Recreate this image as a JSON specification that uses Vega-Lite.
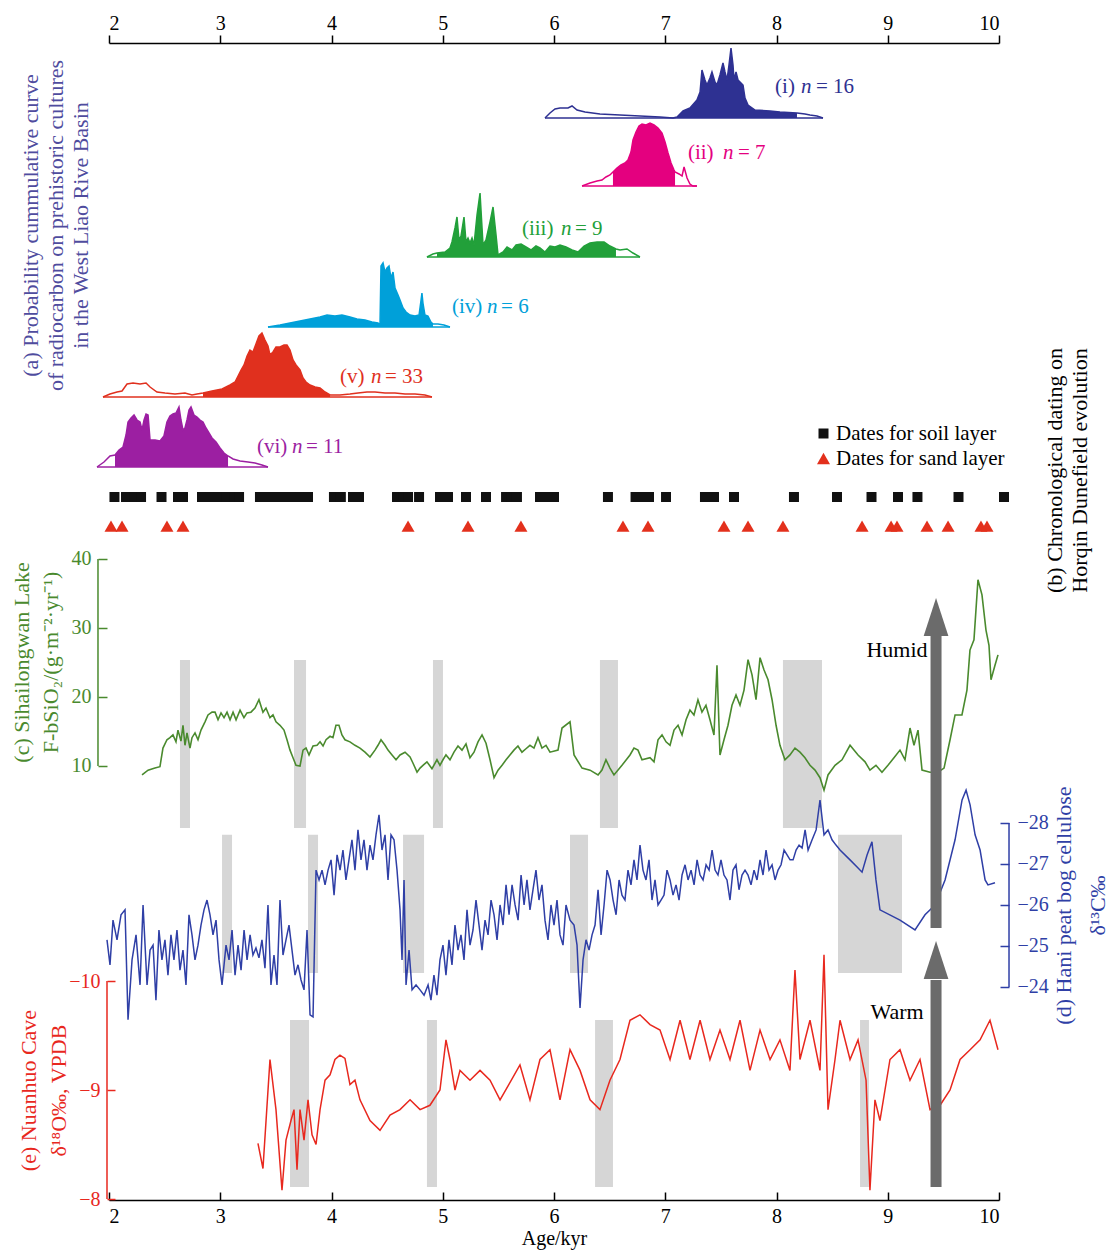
{
"$schema": "https://vega.github.io/schema/vega-lite/v6.json",
"width": 890, "height": 1157,
"autosize": {"type": "none"},
"padding": {"left": 109, "top": 43, "right": 109, "bottom": 52},
"background": "white",
"config": {
 "view": {"stroke": null},
 "font": "Liberation Serif",
 "text": {"font": "Liberation Serif"},
 "axis": {"labelFont": "Liberation Serif", "titleFont": "Liberation Serif", "labelFontSize": 20, "titleFontSize": 22, "titleFontWeight": "normal", "grid": false, "domainWidth": 1.5, "tickWidth": 1.5},
 "legend": {"labelFont": "Liberation Serif", "labelFontSize": 21}
},
"datasets": {
 "barsC": [{"a1": 2.638, "a2": 2.728}, {"a1": 3.663, "a2": 3.771}, {"a1": 4.912, "a2": 5.002}, {"a1": 6.413, "a2": 6.575}, {"a1": 8.058, "a2": 8.409}],
 "barsD": [{"a1": 3.016, "a2": 3.106}, {"a1": 3.789, "a2": 3.879}, {"a1": 4.643, "a2": 4.832}, {"a1": 6.144, "a2": 6.306}, {"a1": 8.553, "a2": 9.128}],
 "barsE": [{"a1": 3.627, "a2": 3.798}, {"a1": 4.858, "a2": 4.948}, {"a1": 6.369, "a2": 6.530}, {"a1": 8.751, "a2": 8.831}],
 "curves": [
  {"c":"i","age":5.919,"p":0,"f":0},{"c":"i","age":5.964,"p":5,"f":0},{"c":"i","age":6.009,"p":9,"f":0},{"c":"i","age":6.054,"p":10,"f":0},{"c":"i","age":6.126,"p":10,"f":0},{"c":"i","age":6.162,"p":12,"f":0},{"c":"i","age":6.207,"p":8,"f":0},{"c":"i","age":6.279,"p":6,"f":0},{"c":"i","age":6.413,"p":4,"f":0},{"c":"i","age":6.593,"p":3,"f":0},{"c":"i","age":6.773,"p":2,"f":0},{"c":"i","age":6.953,"p":1,"f":0},{"c":"i","age":7.070,"p":0,"f":0},
  {"c":"i","age":7.106,"p":1,"f":1},{"c":"i","age":7.160,"p":7,"f":1},{"c":"i","age":7.222,"p":10,"f":1},{"c":"i","age":7.285,"p":18,"f":1},{"c":"i","age":7.313,"p":26,"f":1},{"c":"i","age":7.330,"p":48,"f":1},{"c":"i","age":7.357,"p":38,"f":1},{"c":"i","age":7.375,"p":33,"f":1},{"c":"i","age":7.402,"p":40,"f":1},{"c":"i","age":7.420,"p":46,"f":1},{"c":"i","age":7.447,"p":36,"f":1},{"c":"i","age":7.465,"p":33,"f":1},{"c":"i","age":7.492,"p":43,"f":1},{"c":"i","age":7.519,"p":55,"f":1},{"c":"i","age":7.537,"p":46,"f":1},{"c":"i","age":7.555,"p":38,"f":1},{"c":"i","age":7.573,"p":53,"f":1},{"c":"i","age":7.591,"p":70,"f":1},{"c":"i","age":7.609,"p":53,"f":1},{"c":"i","age":7.618,"p":38,"f":1},{"c":"i","age":7.636,"p":46,"f":1},{"c":"i","age":7.654,"p":38,"f":1},{"c":"i","age":7.672,"p":36,"f":1},{"c":"i","age":7.699,"p":33,"f":1},{"c":"i","age":7.717,"p":20,"f":1},{"c":"i","age":7.744,"p":13,"f":1},{"c":"i","age":7.807,"p":8,"f":1},{"c":"i","age":7.942,"p":7,"f":1},{"c":"i","age":8.031,"p":6,"f":1},{"c":"i","age":8.184,"p":5,"f":1},
  {"c":"i","age":8.256,"p":4,"f":0},{"c":"i","age":8.301,"p":3,"f":0},{"c":"i","age":8.364,"p":2,"f":0},{"c":"i","age":8.418,"p":0,"f":0},
  {"c":"ii","age":6.252,"p":0,"f":0},{"c":"ii","age":6.324,"p":3,"f":0},{"c":"ii","age":6.387,"p":5,"f":0},{"c":"ii","age":6.431,"p":6,"f":0},{"c":"ii","age":6.467,"p":9,"f":0},{"c":"ii","age":6.503,"p":11,"f":0},
  {"c":"ii","age":6.530,"p":14,"f":1},{"c":"ii","age":6.566,"p":18,"f":1},{"c":"ii","age":6.602,"p":21,"f":1},{"c":"ii","age":6.638,"p":23,"f":1},{"c":"ii","age":6.665,"p":26,"f":1},{"c":"ii","age":6.692,"p":34,"f":1},{"c":"ii","age":6.710,"p":46,"f":1},{"c":"ii","age":6.737,"p":54,"f":1},{"c":"ii","age":6.764,"p":60,"f":1},{"c":"ii","age":6.791,"p":62,"f":1},{"c":"ii","age":6.827,"p":61,"f":1},{"c":"ii","age":6.863,"p":63,"f":1},{"c":"ii","age":6.899,"p":61,"f":1},{"c":"ii","age":6.935,"p":58,"f":1},{"c":"ii","age":6.971,"p":53,"f":1},{"c":"ii","age":6.998,"p":44,"f":1},{"c":"ii","age":7.025,"p":33,"f":1},{"c":"ii","age":7.052,"p":23,"f":1},{"c":"ii","age":7.079,"p":16,"f":1},{"c":"ii","age":7.088,"p":14,"f":1},
  {"c":"ii","age":7.124,"p":12,"f":0},{"c":"ii","age":7.151,"p":10,"f":0},{"c":"ii","age":7.169,"p":19,"f":0},{"c":"ii","age":7.196,"p":8,"f":0},{"c":"ii","age":7.222,"p":2,"f":0},{"c":"ii","age":7.249,"p":0,"f":0},{"c":"ii","age":7.285,"p":0,"f":0},
  {"c":"iii","age":4.858,"p":0,"f":0},{"c":"iii","age":4.912,"p":3,"f":0},
  {"c":"iii","age":4.948,"p":4,"f":1},{"c":"iii","age":5.020,"p":5,"f":1},{"c":"iii","age":5.065,"p":9,"f":1},{"c":"iii","age":5.083,"p":15,"f":1},{"c":"iii","age":5.110,"p":29,"f":1},{"c":"iii","age":5.128,"p":40,"f":1},{"c":"iii","age":5.146,"p":17,"f":1},{"c":"iii","age":5.164,"p":21,"f":1},{"c":"iii","age":5.191,"p":40,"f":1},{"c":"iii","age":5.209,"p":15,"f":1},{"c":"iii","age":5.227,"p":19,"f":1},{"c":"iii","age":5.245,"p":14,"f":1},{"c":"iii","age":5.263,"p":19,"f":1},{"c":"iii","age":5.281,"p":12,"f":1},{"c":"iii","age":5.308,"p":42,"f":1},{"c":"iii","age":5.335,"p":64,"f":1},{"c":"iii","age":5.362,"p":12,"f":1},{"c":"iii","age":5.389,"p":17,"f":1},{"c":"iii","age":5.425,"p":35,"f":1},{"c":"iii","age":5.452,"p":50,"f":1},{"c":"iii","age":5.479,"p":22,"f":1},{"c":"iii","age":5.497,"p":2,"f":1},{"c":"iii","age":5.542,"p":5,"f":1},{"c":"iii","age":5.578,"p":10,"f":1},{"c":"iii","age":5.623,"p":7,"f":1},{"c":"iii","age":5.659,"p":12,"f":1},{"c":"iii","age":5.704,"p":13,"f":1},{"c":"iii","age":5.748,"p":10,"f":1},{"c":"iii","age":5.793,"p":7,"f":1},{"c":"iii","age":5.838,"p":11,"f":1},{"c":"iii","age":5.874,"p":9,"f":1},{"c":"iii","age":5.919,"p":5,"f":1},{"c":"iii","age":5.964,"p":11,"f":1},{"c":"iii","age":6.009,"p":10,"f":1},{"c":"iii","age":6.054,"p":12,"f":1},{"c":"iii","age":6.108,"p":10,"f":1},{"c":"iii","age":6.162,"p":7,"f":1},{"c":"iii","age":6.216,"p":5,"f":1},{"c":"iii","age":6.270,"p":11,"f":1},{"c":"iii","age":6.324,"p":14,"f":1},{"c":"iii","age":6.387,"p":15,"f":1},{"c":"iii","age":6.450,"p":15,"f":1},{"c":"iii","age":6.503,"p":11,"f":1},{"c":"iii","age":6.557,"p":8,"f":1},
  {"c":"iii","age":6.593,"p":7,"f":0},{"c":"iii","age":6.656,"p":8,"f":0},{"c":"iii","age":6.710,"p":4,"f":0},{"c":"iii","age":6.773,"p":0,"f":0},
  {"c":"iv","age":3.429,"p":0,"f":1},{"c":"iv","age":3.537,"p":2,"f":1},{"c":"iv","age":3.627,"p":4,"f":1},{"c":"iv","age":3.717,"p":6,"f":1},{"c":"iv","age":3.807,"p":8,"f":1},{"c":"iv","age":3.897,"p":10,"f":1},{"c":"iv","age":3.960,"p":12,"f":1},{"c":"iv","age":4.031,"p":11,"f":1},{"c":"iv","age":4.094,"p":12,"f":1},{"c":"iv","age":4.166,"p":10,"f":1},{"c":"iv","age":4.229,"p":8,"f":1},{"c":"iv","age":4.301,"p":7,"f":1},{"c":"iv","age":4.364,"p":5,"f":1},{"c":"iv","age":4.418,"p":4,"f":1},{"c":"iv","age":4.436,"p":2,"f":1},{"c":"iv","age":4.445,"p":61,"f":1},{"c":"iv","age":4.463,"p":64,"f":1},{"c":"iv","age":4.481,"p":55,"f":1},{"c":"iv","age":4.499,"p":59,"f":1},{"c":"iv","age":4.517,"p":61,"f":1},{"c":"iv","age":4.535,"p":49,"f":1},{"c":"iv","age":4.553,"p":55,"f":1},{"c":"iv","age":4.571,"p":39,"f":1},{"c":"iv","age":4.598,"p":32,"f":1},{"c":"iv","age":4.616,"p":27,"f":1},{"c":"iv","age":4.643,"p":19,"f":1},{"c":"iv","age":4.670,"p":15,"f":1},{"c":"iv","age":4.706,"p":12,"f":1},{"c":"iv","age":4.751,"p":11,"f":1},{"c":"iv","age":4.787,"p":12,"f":1},{"c":"iv","age":4.805,"p":27,"f":1},{"c":"iv","age":4.813,"p":34,"f":1},{"c":"iv","age":4.822,"p":24,"f":1},{"c":"iv","age":4.840,"p":12,"f":1},{"c":"iv","age":4.867,"p":11,"f":1},{"c":"iv","age":4.894,"p":5,"f":1},{"c":"iv","age":4.912,"p":3,"f":1},
  {"c":"iv","age":4.957,"p":3,"f":0},{"c":"iv","age":5.011,"p":2,"f":0},{"c":"iv","age":5.065,"p":0,"f":0},
  {"c":"v","age":1.946,"p":0,"f":0},{"c":"v","age":2.009,"p":3,"f":0},{"c":"v","age":2.072,"p":5,"f":0},{"c":"v","age":2.117,"p":6,"f":0},{"c":"v","age":2.162,"p":13,"f":0},{"c":"v","age":2.216,"p":14,"f":0},{"c":"v","age":2.279,"p":13,"f":0},{"c":"v","age":2.333,"p":14,"f":0},{"c":"v","age":2.369,"p":10,"f":0},{"c":"v","age":2.431,"p":5,"f":0},{"c":"v","age":2.503,"p":4,"f":0},{"c":"v","age":2.593,"p":3,"f":0},{"c":"v","age":2.683,"p":4,"f":0},{"c":"v","age":2.746,"p":2,"f":0},{"c":"v","age":2.791,"p":3,"f":0},
  {"c":"v","age":2.845,"p":4,"f":1},{"c":"v","age":2.926,"p":6,"f":1},{"c":"v","age":3.016,"p":8,"f":1},{"c":"v","age":3.088,"p":12,"f":1},{"c":"v","age":3.133,"p":15,"f":1},{"c":"v","age":3.160,"p":21,"f":1},{"c":"v","age":3.187,"p":27,"f":1},{"c":"v","age":3.214,"p":32,"f":1},{"c":"v","age":3.241,"p":41,"f":1},{"c":"v","age":3.267,"p":47,"f":1},{"c":"v","age":3.294,"p":45,"f":1},{"c":"v","age":3.321,"p":53,"f":1},{"c":"v","age":3.348,"p":61,"f":1},{"c":"v","age":3.375,"p":64,"f":1},{"c":"v","age":3.402,"p":57,"f":1},{"c":"v","age":3.429,"p":51,"f":1},{"c":"v","age":3.447,"p":42,"f":1},{"c":"v","age":3.474,"p":45,"f":1},{"c":"v","age":3.501,"p":50,"f":1},{"c":"v","age":3.537,"p":50,"f":1},{"c":"v","age":3.573,"p":52,"f":1},{"c":"v","age":3.600,"p":52,"f":1},{"c":"v","age":3.627,"p":47,"f":1},{"c":"v","age":3.654,"p":37,"f":1},{"c":"v","age":3.681,"p":32,"f":1},{"c":"v","age":3.717,"p":27,"f":1},{"c":"v","age":3.744,"p":19,"f":1},{"c":"v","age":3.771,"p":15,"f":1},{"c":"v","age":3.807,"p":12,"f":1},{"c":"v","age":3.852,"p":10,"f":1},{"c":"v","age":3.897,"p":9,"f":1},{"c":"v","age":3.942,"p":5,"f":1},{"c":"v","age":3.987,"p":2,"f":1},
  {"c":"v","age":4.076,"p":2,"f":0},{"c":"v","age":4.166,"p":3,"f":0},{"c":"v","age":4.238,"p":4,"f":0},{"c":"v","age":4.319,"p":5,"f":0},{"c":"v","age":4.391,"p":5,"f":0},{"c":"v","age":4.481,"p":4,"f":0},{"c":"v","age":4.571,"p":4,"f":0},{"c":"v","age":4.661,"p":3,"f":0},{"c":"v","age":4.751,"p":3,"f":0},{"c":"v","age":4.840,"p":2,"f":0},{"c":"v","age":4.903,"p":0,"f":0},
  {"c":"vi","age":1.892,"p":0,"f":0},{"c":"vi","age":1.955,"p":5,"f":0},{"c":"vi","age":2.009,"p":11,"f":0},
  {"c":"vi","age":2.054,"p":12,"f":1},{"c":"vi","age":2.090,"p":17,"f":1},{"c":"vi","age":2.126,"p":20,"f":1},{"c":"vi","age":2.153,"p":32,"f":1},{"c":"vi","age":2.171,"p":45,"f":1},{"c":"vi","age":2.198,"p":49,"f":1},{"c":"vi","age":2.225,"p":52,"f":1},{"c":"vi","age":2.252,"p":47,"f":1},{"c":"vi","age":2.279,"p":45,"f":1},{"c":"vi","age":2.297,"p":37,"f":1},{"c":"vi","age":2.315,"p":47,"f":1},{"c":"vi","age":2.333,"p":53,"f":1},{"c":"vi","age":2.351,"p":52,"f":1},{"c":"vi","age":2.369,"p":27,"f":1},{"c":"vi","age":2.414,"p":27,"f":1},{"c":"vi","age":2.458,"p":26,"f":1},{"c":"vi","age":2.494,"p":31,"f":1},{"c":"vi","age":2.521,"p":45,"f":1},{"c":"vi","age":2.548,"p":51,"f":1},{"c":"vi","age":2.575,"p":53,"f":1},{"c":"vi","age":2.602,"p":54,"f":1},{"c":"vi","age":2.629,"p":60,"f":1},{"c":"vi","age":2.647,"p":47,"f":1},{"c":"vi","age":2.665,"p":37,"f":1},{"c":"vi","age":2.683,"p":39,"f":1},{"c":"vi","age":2.701,"p":47,"f":1},{"c":"vi","age":2.719,"p":57,"f":1},{"c":"vi","age":2.737,"p":60,"f":1},{"c":"vi","age":2.764,"p":52,"f":1},{"c":"vi","age":2.791,"p":50,"f":1},{"c":"vi","age":2.818,"p":47,"f":1},{"c":"vi","age":2.845,"p":45,"f":1},{"c":"vi","age":2.872,"p":39,"f":1},{"c":"vi","age":2.899,"p":34,"f":1},{"c":"vi","age":2.926,"p":29,"f":1},{"c":"vi","age":2.962,"p":25,"f":1},{"c":"vi","age":2.998,"p":19,"f":1},{"c":"vi","age":3.034,"p":14,"f":1},{"c":"vi","age":3.070,"p":11,"f":1},
  {"c":"vi","age":3.115,"p":8,"f":0},{"c":"vi","age":3.178,"p":6,"f":0},{"c":"vi","age":3.249,"p":5,"f":0},{"c":"vi","age":3.312,"p":4,"f":0},{"c":"vi","age":3.375,"p":2,"f":0},{"c":"vi","age":3.429,"p":0,"f":0}
 ],
 "clabels": [
  {"c":"i","t":"(i)","age":7.987,"p":31,"it":0},{"c":"i","t":"n","age":8.220,"p":31,"it":1},{"c":"i","t":"= 16","age":8.355,"p":31,"it":0},
  {"c":"ii","t":"(ii)","age":7.204,"p":33,"it":0},{"c":"ii","t":"n","age":7.519,"p":33,"it":1},{"c":"ii","t":"= 7","age":7.654,"p":33,"it":0},
  {"c":"iii","t":"(iii)","age":5.712,"p":28,"it":0},{"c":"iii","t":"n","age":6.063,"p":28,"it":1},{"c":"iii","t":"= 9","age":6.189,"p":28,"it":0},
  {"c":"iv","t":"(iv)","age":5.083,"p":20,"it":0},{"c":"iv","t":"n","age":5.398,"p":20,"it":1},{"c":"iv","t":"= 6","age":5.524,"p":20,"it":0},
  {"c":"v","t":"(v)","age":4.076,"p":20,"it":0},{"c":"v","t":"n","age":4.355,"p":20,"it":1},{"c":"v","t":"= 33","age":4.481,"p":20,"it":0},
  {"c":"vi","t":"(vi)","age":3.330,"p":20,"it":0},{"c":"vi","t":"n","age":3.645,"p":20,"it":1},{"c":"vi","t":"= 11","age":3.771,"p":20,"it":0}
 ],
 "dates": [
  {"type":"Dates for soil layer","row":1,"age":2.049},{"type":"Dates for soil layer","row":1,"age":2.153},{"type":"Dates for soil layer","row":1,"age":2.225},{"type":"Dates for soil layer","row":1,"age":2.288},{"type":"Dates for soil layer","row":1,"age":2.472},{"type":"Dates for soil layer","row":1,"age":2.620},{"type":"Dates for soil layer","row":1,"age":2.665},{"type":"Dates for soil layer","row":1,"age":2.836},{"type":"Dates for soil layer","row":1,"age":2.908},{"type":"Dates for soil layer","row":1,"age":2.980},{"type":"Dates for soil layer","row":1,"age":3.052},{"type":"Dates for soil layer","row":1,"age":3.124},{"type":"Dates for soil layer","row":1,"age":3.169},{"type":"Dates for soil layer","row":1,"age":3.357},{"type":"Dates for soil layer","row":1,"age":3.429},{"type":"Dates for soil layer","row":1,"age":3.501},{"type":"Dates for soil layer","row":1,"age":3.573},{"type":"Dates for soil layer","row":1,"age":3.645},{"type":"Dates for soil layer","row":1,"age":3.717},{"type":"Dates for soil layer","row":1,"age":3.789},{"type":"Dates for soil layer","row":1,"age":4.022},{"type":"Dates for soil layer","row":1,"age":4.084},{"type":"Dates for soil layer","row":1,"age":4.193},{"type":"Dates for soil layer","row":1,"age":4.247},{"type":"Dates for soil layer","row":1,"age":4.589},{"type":"Dates for soil layer","row":1,"age":4.643},{"type":"Dates for soil layer","row":1,"age":4.688},{"type":"Dates for soil layer","row":1,"age":4.787},{"type":"Dates for soil layer","row":1,"age":4.975},{"type":"Dates for soil layer","row":1,"age":5.047},{"type":"Dates for soil layer","row":1,"age":5.209},{"type":"Dates for soil layer","row":1,"age":5.389},{"type":"Dates for soil layer","row":1,"age":5.569},{"type":"Dates for soil layer","row":1,"age":5.622},{"type":"Dates for soil layer","row":1,"age":5.667},{"type":"Dates for soil layer","row":1,"age":5.874},{"type":"Dates for soil layer","row":1,"age":5.946},{"type":"Dates for soil layer","row":1,"age":6.000},{"type":"Dates for soil layer","row":1,"age":6.485},{"type":"Dates for soil layer","row":1,"age":6.733},{"type":"Dates for soil layer","row":1,"age":6.800},{"type":"Dates for soil layer","row":1,"age":6.854},{"type":"Dates for soil layer","row":1,"age":7.007},{"type":"Dates for soil layer","row":1,"age":7.357},{"type":"Dates for soil layer","row":1,"age":7.438},{"type":"Dates for soil layer","row":1,"age":7.618},{"type":"Dates for soil layer","row":1,"age":8.157},{"type":"Dates for soil layer","row":1,"age":8.544},{"type":"Dates for soil layer","row":1,"age":8.854},{"type":"Dates for soil layer","row":1,"age":9.092},{"type":"Dates for soil layer","row":1,"age":9.267},{"type":"Dates for soil layer","row":1,"age":9.636},{"type":"Dates for soil layer","row":1,"age":10.045},
  {"type":"Dates for sand layer","row":0,"age":2.018},{"type":"Dates for sand layer","row":0,"age":2.117},{"type":"Dates for sand layer","row":0,"age":2.521},{"type":"Dates for sand layer","row":0,"age":2.665},{"type":"Dates for sand layer","row":0,"age":4.688},{"type":"Dates for sand layer","row":0,"age":5.227},{"type":"Dates for sand layer","row":0,"age":5.703},{"type":"Dates for sand layer","row":0,"age":6.620},{"type":"Dates for sand layer","row":0,"age":6.845},{"type":"Dates for sand layer","row":0,"age":7.528},{"type":"Dates for sand layer","row":0,"age":7.744},{"type":"Dates for sand layer","row":0,"age":8.058},{"type":"Dates for sand layer","row":0,"age":8.769},{"type":"Dates for sand layer","row":0,"age":9.030},{"type":"Dates for sand layer","row":0,"age":9.083},{"type":"Dates for sand layer","row":0,"age":9.353},{"type":"Dates for sand layer","row":0,"age":9.542},{"type":"Dates for sand layer","row":0,"age":9.838},{"type":"Dates for sand layer","row":0,"age":9.892}
 ],
 "spines": [
  {"panel":"c","age":1.901,"lo":10,"hi":40},
  {"panel":"d","age":10.09,"lo":-28,"hi":-24},
  {"panel":"e","age":1.982,"lo":-10,"hi":-8}
 ],
 "sil": [
  {"age":2.297,"v":8.7},{"age":2.351,"v":9.4},{"age":2.413,"v":9.7},{"age":2.458,"v":9.9},{"age":2.485,"v":12.6},{"age":2.521,"v":13.8},{"age":2.548,"v":14.1},{"age":2.575,"v":14.5},{"age":2.602,"v":13.5},{"age":2.620,"v":15.2},{"age":2.647,"v":13.6},{"age":2.665,"v":15.9},{"age":2.683,"v":13.0},{"age":2.701,"v":14.8},{"age":2.728,"v":12.6},{"age":2.746,"v":14.1},{"age":2.773,"v":14.8},{"age":2.800,"v":13.8},{"age":2.827,"v":15.2},{"age":2.863,"v":16.4},{"age":2.890,"v":17.4},{"age":2.926,"v":17.8},{"age":2.953,"v":17.8},{"age":2.980,"v":16.7},{"age":3.007,"v":17.7},{"age":3.034,"v":17.0},{"age":3.061,"v":17.8},{"age":3.088,"v":16.7},{"age":3.115,"v":17.8},{"age":3.142,"v":16.7},{"age":3.178,"v":18.1},{"age":3.213,"v":17.0},{"age":3.240,"v":17.7},{"age":3.276,"v":17.8},{"age":3.312,"v":18.4},{"age":3.348,"v":19.6},{"age":3.384,"v":17.8},{"age":3.411,"v":18.4},{"age":3.447,"v":17.0},{"age":3.474,"v":17.4},{"age":3.501,"v":16.4},{"age":3.537,"v":15.9},{"age":3.573,"v":15.2},{"age":3.600,"v":13.8},{"age":3.627,"v":12.3},{"age":3.654,"v":11.2},{"age":3.681,"v":10.1},{"age":3.717,"v":10.0},{"age":3.744,"v":12.3},{"age":3.771,"v":12.6},{"age":3.798,"v":11.6},{"age":3.834,"v":12.9},{"age":3.870,"v":13.0},{"age":3.897,"v":13.5},{"age":3.924,"v":12.9},{"age":3.951,"v":13.8},{"age":3.987,"v":14.3},{"age":4.013,"v":14.1},{"age":4.040,"v":15.9},{"age":4.067,"v":15.9},{"age":4.094,"v":14.5},{"age":4.121,"v":13.8},{"age":4.166,"v":13.5},{"age":4.211,"v":13.0},{"age":4.256,"v":12.6},{"age":4.301,"v":12.0},{"age":4.346,"v":11.3},{"age":4.391,"v":12.3},{"age":4.418,"v":13.0},{"age":4.445,"v":13.8},{"age":4.481,"v":13.0},{"age":4.508,"v":12.3},{"age":4.544,"v":11.6},{"age":4.580,"v":10.9},{"age":4.616,"v":11.6},{"age":4.661,"v":12.0},{"age":4.706,"v":11.3},{"age":4.733,"v":10.4},{"age":4.769,"v":9.1},{"age":4.796,"v":9.7},{"age":4.822,"v":10.1},{"age":4.858,"v":10.6},{"age":4.903,"v":9.6},{"age":4.948,"v":10.9},{"age":4.975,"v":10.1},{"age":5.002,"v":10.9},{"age":5.029,"v":11.6},{"age":5.065,"v":10.9},{"age":5.101,"v":12.0},{"age":5.137,"v":12.9},{"age":5.173,"v":12.3},{"age":5.209,"v":13.2},{"age":5.245,"v":11.2},{"age":5.281,"v":12.0},{"age":5.317,"v":13.5},{"age":5.353,"v":14.5},{"age":5.389,"v":13.3},{"age":5.425,"v":10.9},{"age":5.461,"v":8.3},{"age":5.497,"v":9.4},{"age":5.533,"v":10.1},{"age":5.569,"v":10.9},{"age":5.604,"v":11.6},{"age":5.640,"v":12.3},{"age":5.676,"v":12.9},{"age":5.712,"v":12.0},{"age":5.748,"v":12.5},{"age":5.784,"v":13.0},{"age":5.820,"v":12.6},{"age":5.856,"v":14.1},{"age":5.892,"v":12.6},{"age":5.928,"v":13.0},{"age":5.964,"v":12.0},{"age":6.036,"v":12.3},{"age":6.072,"v":15.5},{"age":6.144,"v":16.4},{"age":6.180,"v":11.6},{"age":6.252,"v":9.7},{"age":6.324,"v":9.4},{"age":6.396,"v":8.7},{"age":6.431,"v":9.4},{"age":6.467,"v":10.9},{"age":6.503,"v":9.7},{"age":6.539,"v":8.7},{"age":6.611,"v":10.1},{"age":6.683,"v":11.6},{"age":6.719,"v":12.6},{"age":6.755,"v":12.3},{"age":6.791,"v":10.9},{"age":6.863,"v":11.2},{"age":6.899,"v":10.6},{"age":6.935,"v":13.8},{"age":6.971,"v":14.5},{"age":7.007,"v":13.5},{"age":7.043,"v":13.0},{"age":7.079,"v":15.2},{"age":7.115,"v":15.9},{"age":7.151,"v":14.5},{"age":7.187,"v":16.7},{"age":7.222,"v":18.1},{"age":7.258,"v":17.4},{"age":7.294,"v":19.6},{"age":7.330,"v":17.8},{"age":7.366,"v":18.8},{"age":7.402,"v":16.7},{"age":7.438,"v":14.5},{"age":7.465,"v":24.6},{"age":7.492,"v":11.6},{"age":7.528,"v":13.8},{"age":7.564,"v":15.9},{"age":7.600,"v":18.8},{"age":7.636,"v":20.3},{"age":7.672,"v":18.8},{"age":7.708,"v":21.0},{"age":7.744,"v":25.4},{"age":7.780,"v":23.2},{"age":7.816,"v":19.6},{"age":7.852,"v":25.7},{"age":7.888,"v":23.9},{"age":7.924,"v":22.5},{"age":7.960,"v":19.6},{"age":7.996,"v":15.9},{"age":8.031,"v":13.0},{"age":8.076,"v":10.9},{"age":8.121,"v":11.6},{"age":8.166,"v":12.6},{"age":8.211,"v":12.0},{"age":8.256,"v":11.2},{"age":8.301,"v":10.1},{"age":8.346,"v":9.4},{"age":8.391,"v":8.3},{"age":8.427,"v":6.5},{"age":8.463,"v":8.7},{"age":8.526,"v":10.1},{"age":8.589,"v":10.9},{"age":8.661,"v":13.0},{"age":8.733,"v":11.6},{"age":8.796,"v":10.6},{"age":8.840,"v":9.4},{"age":8.894,"v":10.1},{"age":8.948,"v":9.1},{"age":9.002,"v":10.1},{"age":9.056,"v":11.2},{"age":9.110,"v":12.3},{"age":9.155,"v":10.9},{"age":9.200,"v":15.5},{"age":9.236,"v":13.0},{"age":9.272,"v":15.2},{"age":9.308,"v":9.4},{"age":9.380,"v":9.1},{"age":9.452,"v":9.1},{"age":9.506,"v":9.7},{"age":9.560,"v":13.8},{"age":9.605,"v":17.4},{"age":9.667,"v":17.4},{"age":9.712,"v":21.0},{"age":9.739,"v":26.8},{"age":9.775,"v":28.3},{"age":9.811,"v":37.0},{"age":9.847,"v":34.8},{"age":9.883,"v":29.7},{"age":9.910,"v":27.5},{"age":9.928,"v":22.5},{"age":9.964,"v":24.6},{"age":9.991,"v":26.1}
 ],
 "hani": [
  {"age":1.982,"v":-25.15},{"age":2.009,"v":-24.54},{"age":2.036,"v":-25.63},{"age":2.072,"v":-25.15},{"age":2.108,"v":-25.76},{"age":2.144,"v":-25.88},{"age":2.171,"v":-23.20},{"age":2.207,"v":-24.66},{"age":2.243,"v":-25.27},{"age":2.279,"v":-24.05},{"age":2.306,"v":-26.00},{"age":2.342,"v":-24.05},{"age":2.369,"v":-24.90},{"age":2.396,"v":-25.02},{"age":2.422,"v":-23.68},{"age":2.449,"v":-25.39},{"age":2.476,"v":-24.66},{"age":2.503,"v":-25.15},{"age":2.530,"v":-24.29},{"age":2.557,"v":-25.27},{"age":2.584,"v":-24.66},{"age":2.611,"v":-25.39},{"age":2.638,"v":-24.41},{"age":2.665,"v":-24.90},{"age":2.692,"v":-24.05},{"age":2.719,"v":-25.76},{"age":2.746,"v":-25.27},{"age":2.773,"v":-24.66},{"age":2.800,"v":-25.02},{"age":2.827,"v":-25.51},{"age":2.854,"v":-25.88},{"age":2.881,"v":-26.12},{"age":2.908,"v":-25.76},{"age":2.935,"v":-25.27},{"age":2.962,"v":-25.63},{"age":2.989,"v":-24.66},{"age":3.016,"v":-24.05},{"age":3.052,"v":-25.02},{"age":3.079,"v":-24.66},{"age":3.106,"v":-25.39},{"age":3.133,"v":-24.29},{"age":3.160,"v":-25.02},{"age":3.187,"v":-24.41},{"age":3.214,"v":-25.39},{"age":3.241,"v":-24.66},{"age":3.268,"v":-25.27},{"age":3.294,"v":-24.78},{"age":3.321,"v":-24.95},{"age":3.348,"v":-24.71},{"age":3.375,"v":-25.15},{"age":3.402,"v":-24.46},{"age":3.429,"v":-26.00},{"age":3.456,"v":-24.05},{"age":3.483,"v":-24.78},{"age":3.510,"v":-24.05},{"age":3.537,"v":-26.12},{"age":3.564,"v":-24.78},{"age":3.591,"v":-25.15},{"age":3.618,"v":-25.51},{"age":3.645,"v":-24.90},{"age":3.672,"v":-24.29},{"age":3.699,"v":-24.54},{"age":3.726,"v":-24.17},{"age":3.753,"v":-23.93},{"age":3.780,"v":-25.39},{"age":3.807,"v":-23.32},{"age":3.834,"v":-23.27},{"age":3.861,"v":-26.85},{"age":3.888,"v":-26.61},{"age":3.915,"v":-26.85},{"age":3.942,"v":-26.49},{"age":3.969,"v":-26.85},{"age":3.996,"v":-27.10},{"age":4.023,"v":-26.24},{"age":4.050,"v":-27.22},{"age":4.077,"v":-26.85},{"age":4.103,"v":-27.34},{"age":4.130,"v":-26.61},{"age":4.157,"v":-27.10},{"age":4.184,"v":-27.59},{"age":4.211,"v":-26.85},{"age":4.238,"v":-27.83},{"age":4.265,"v":-27.10},{"age":4.292,"v":-27.59},{"age":4.319,"v":-26.85},{"age":4.346,"v":-27.46},{"age":4.373,"v":-27.10},{"age":4.400,"v":-27.71},{"age":4.427,"v":-28.20},{"age":4.454,"v":-27.34},{"age":4.481,"v":-27.71},{"age":4.508,"v":-26.61},{"age":4.535,"v":-27.71},{"age":4.562,"v":-27.59},{"age":4.589,"v":-26.85},{"age":4.616,"v":-25.88},{"age":4.634,"v":-24.66},{"age":4.652,"v":-26.61},{"age":4.670,"v":-24.05},{"age":4.697,"v":-24.90},{"age":4.724,"v":-23.93},{"age":4.760,"v":-24.05},{"age":4.796,"v":-23.93},{"age":4.832,"v":-23.80},{"age":4.868,"v":-24.05},{"age":4.894,"v":-23.68},{"age":4.921,"v":-24.29},{"age":4.948,"v":-23.80},{"age":4.975,"v":-24.66},{"age":5.002,"v":-25.02},{"age":5.029,"v":-24.29},{"age":5.056,"v":-25.15},{"age":5.083,"v":-24.54},{"age":5.110,"v":-25.51},{"age":5.137,"v":-24.90},{"age":5.164,"v":-25.27},{"age":5.191,"v":-24.66},{"age":5.218,"v":-25.88},{"age":5.245,"v":-25.02},{"age":5.272,"v":-25.39},{"age":5.299,"v":-26.12},{"age":5.326,"v":-25.51},{"age":5.353,"v":-24.90},{"age":5.380,"v":-25.63},{"age":5.407,"v":-25.27},{"age":5.434,"v":-26.12},{"age":5.461,"v":-25.76},{"age":5.488,"v":-25.15},{"age":5.515,"v":-26.00},{"age":5.542,"v":-25.51},{"age":5.569,"v":-26.49},{"age":5.596,"v":-25.76},{"age":5.623,"v":-26.49},{"age":5.650,"v":-26.00},{"age":5.677,"v":-25.63},{"age":5.704,"v":-26.73},{"age":5.731,"v":-26.00},{"age":5.757,"v":-26.61},{"age":5.784,"v":-25.88},{"age":5.811,"v":-26.37},{"age":5.838,"v":-26.85},{"age":5.865,"v":-26.12},{"age":5.892,"v":-26.49},{"age":5.919,"v":-25.63},{"age":5.946,"v":-25.15},{"age":5.973,"v":-26.00},{"age":6.000,"v":-25.51},{"age":6.027,"v":-26.12},{"age":6.054,"v":-25.27},{"age":6.081,"v":-25.02},{"age":6.108,"v":-26.00},{"age":6.144,"v":-25.63},{"age":6.180,"v":-25.51},{"age":6.207,"v":-25.02},{"age":6.234,"v":-23.49},{"age":6.261,"v":-24.66},{"age":6.288,"v":-25.15},{"age":6.315,"v":-24.90},{"age":6.342,"v":-25.27},{"age":6.369,"v":-25.51},{"age":6.396,"v":-26.37},{"age":6.423,"v":-25.27},{"age":6.450,"v":-26.00},{"age":6.477,"v":-26.85},{"age":6.504,"v":-26.61},{"age":6.531,"v":-26.12},{"age":6.558,"v":-25.76},{"age":6.585,"v":-26.61},{"age":6.611,"v":-26.24},{"age":6.638,"v":-26.12},{"age":6.665,"v":-26.85},{"age":6.692,"v":-26.49},{"age":6.719,"v":-27.10},{"age":6.746,"v":-26.61},{"age":6.773,"v":-27.46},{"age":6.800,"v":-26.85},{"age":6.827,"v":-26.61},{"age":6.854,"v":-27.10},{"age":6.881,"v":-26.12},{"age":6.908,"v":-26.61},{"age":6.935,"v":-26.00},{"age":6.962,"v":-26.12},{"age":6.989,"v":-26.24},{"age":7.016,"v":-26.85},{"age":7.043,"v":-26.61},{"age":7.070,"v":-26.24},{"age":7.097,"v":-26.49},{"age":7.124,"v":-26.12},{"age":7.151,"v":-26.73},{"age":7.178,"v":-26.98},{"age":7.205,"v":-26.61},{"age":7.232,"v":-26.85},{"age":7.259,"v":-26.49},{"age":7.286,"v":-27.10},{"age":7.313,"v":-26.73},{"age":7.340,"v":-26.61},{"age":7.367,"v":-26.98},{"age":7.394,"v":-26.85},{"age":7.421,"v":-27.34},{"age":7.448,"v":-26.85},{"age":7.474,"v":-26.73},{"age":7.501,"v":-27.10},{"age":7.528,"v":-26.73},{"age":7.555,"v":-26.61},{"age":7.582,"v":-26.12},{"age":7.609,"v":-26.85},{"age":7.636,"v":-26.98},{"age":7.663,"v":-26.37},{"age":7.690,"v":-26.73},{"age":7.717,"v":-26.85},{"age":7.744,"v":-26.73},{"age":7.771,"v":-26.49},{"age":7.798,"v":-26.85},{"age":7.825,"v":-26.61},{"age":7.852,"v":-27.10},{"age":7.879,"v":-26.73},{"age":7.906,"v":-27.34},{"age":7.933,"v":-26.85},{"age":7.960,"v":-26.98},{"age":7.987,"v":-26.61},{"age":8.014,"v":-26.85},{"age":8.041,"v":-26.98},{"age":8.068,"v":-27.34},{"age":8.095,"v":-27.22},{"age":8.122,"v":-27.10},{"age":8.149,"v":-27.10},{"age":8.176,"v":-27.34},{"age":8.203,"v":-27.46},{"age":8.230,"v":-27.39},{"age":8.257,"v":-27.83},{"age":8.284,"v":-27.34},{"age":8.320,"v":-27.59},{"age":8.356,"v":-27.83},{"age":8.391,"v":-28.56},{"age":8.427,"v":-27.71},{"age":8.463,"v":-27.83},{"age":8.499,"v":-27.59},{"age":8.535,"v":-27.46},{"age":8.571,"v":-27.34},{"age":8.661,"v":-27.10},{"age":8.733,"v":-26.90},{"age":8.769,"v":-26.80},{"age":8.814,"v":-27.22},{"age":8.858,"v":-27.54},{"age":8.894,"v":-26.61},{"age":8.930,"v":-25.88},{"age":9.110,"v":-25.63},{"age":9.245,"v":-25.39},{"age":9.335,"v":-25.76},{"age":9.425,"v":-26.00},{"age":9.515,"v":-26.61},{"age":9.605,"v":-27.59},{"age":9.668,"v":-28.56},{"age":9.704,"v":-28.80},{"age":9.740,"v":-28.44},{"age":9.785,"v":-27.71},{"age":9.830,"v":-27.34},{"age":9.875,"v":-26.61},{"age":9.901,"v":-26.49},{"age":9.964,"v":-26.54}
 ],
 "nuan": [
  {"age":3.339,"v":-8.51},{"age":3.384,"v":-8.28},{"age":3.447,"v":-9.28},{"age":3.501,"v":-8.82},{"age":3.555,"v":-8.08},{"age":3.591,"v":-8.54},{"age":3.636,"v":-8.72},{"age":3.663,"v":-8.82},{"age":3.690,"v":-8.27},{"age":3.717,"v":-8.82},{"age":3.753,"v":-8.54},{"age":3.789,"v":-8.91},{"age":3.825,"v":-8.59},{"age":3.861,"v":-8.50},{"age":3.897,"v":-8.82},{"age":3.942,"v":-9.09},{"age":3.987,"v":-9.14},{"age":4.031,"v":-9.28},{"age":4.076,"v":-9.32},{"age":4.121,"v":-9.29},{"age":4.166,"v":-9.05},{"age":4.211,"v":-9.09},{"age":4.256,"v":-8.91},{"age":4.346,"v":-8.72},{"age":4.436,"v":-8.63},{"age":4.526,"v":-8.77},{"age":4.616,"v":-8.82},{"age":4.706,"v":-8.91},{"age":4.796,"v":-8.82},{"age":4.885,"v":-8.86},{"age":4.975,"v":-9.00},{"age":5.029,"v":-9.46},{"age":5.065,"v":-9.28},{"age":5.110,"v":-9.00},{"age":5.155,"v":-9.18},{"age":5.245,"v":-9.09},{"age":5.335,"v":-9.18},{"age":5.425,"v":-9.09},{"age":5.515,"v":-8.91},{"age":5.694,"v":-9.23},{"age":5.784,"v":-8.91},{"age":5.874,"v":-9.28},{"age":5.964,"v":-9.37},{"age":6.054,"v":-8.91},{"age":6.144,"v":-9.37},{"age":6.234,"v":-9.18},{"age":6.324,"v":-8.91},{"age":6.413,"v":-8.82},{"age":6.503,"v":-9.09},{"age":6.593,"v":-9.28},{"age":6.683,"v":-9.64},{"age":6.773,"v":-9.69},{"age":6.863,"v":-9.60},{"age":6.953,"v":-9.55},{"age":7.043,"v":-9.28},{"age":7.133,"v":-9.64},{"age":7.222,"v":-9.28},{"age":7.313,"v":-9.64},{"age":7.402,"v":-9.28},{"age":7.492,"v":-9.55},{"age":7.582,"v":-9.28},{"age":7.672,"v":-9.64},{"age":7.762,"v":-9.18},{"age":7.852,"v":-9.55},{"age":7.942,"v":-9.28},{"age":8.031,"v":-9.46},{"age":8.121,"v":-9.18},{"age":8.166,"v":-10.10},{"age":8.211,"v":-9.28},{"age":8.301,"v":-9.64},{"age":8.391,"v":-9.18},{"age":8.427,"v":-10.24},{"age":8.463,"v":-8.82},{"age":8.526,"v":-9.28},{"age":8.571,"v":-9.64},{"age":8.661,"v":-9.28},{"age":8.733,"v":-9.46},{"age":8.805,"v":-9.09},{"age":8.840,"v":-8.08},{"age":8.885,"v":-8.91},{"age":8.930,"v":-8.72},{"age":9.020,"v":-9.28},{"age":9.110,"v":-9.37},{"age":9.200,"v":-9.09},{"age":9.290,"v":-9.28},{"age":9.380,"v":-8.82},{"age":9.470,"v":-8.86},{"age":9.560,"v":-9.00},{"age":9.650,"v":-9.28},{"age":9.740,"v":-9.37},{"age":9.830,"v":-9.46},{"age":9.919,"v":-9.64},{"age":9.991,"v":-9.37}
 ]
},
"encoding": {"x": {"field": "age", "type": "quantitative", "scale": {"domain": [2, 10], "nice": false, "zero": false}, "axis": null}},
"layer": [
 {"data": {"name": "barsC"}, "mark": {"type": "rect", "color": "#d6d6d6"},
  "encoding": {
   "x": {"field": "a1", "type": "quantitative", "scale": {"domain": [2, 10], "nice": false, "zero": false}, "axis": {"orient": "top", "values": [2,3,4,5,6,7,8,9,10], "tickSize": 8, "labelPadding": 2, "domainColor": "black", "tickColor": "black", "labelColor": "black", "title": null}},
   "x2": {"field": "a2"},
   "y": {"datum": 25.36, "type": "quantitative", "scale": {"domain": [-52.9, 114.78], "nice": false, "zero": false}, "axis": null},
   "y2": {"datum": 1.0}}},
 {"data": {"name": "barsD"}, "mark": {"type": "rect", "color": "#d6d6d6"},
  "encoding": {
   "x": {"field": "a1", "type": "quantitative", "axis": null},
   "x2": {"field": "a2"},
   "y": {"datum": -27.71, "type": "quantitative", "scale": {"domain": [-47.02, -18.805], "reverse": true, "nice": false, "zero": false}, "axis": null},
   "y2": {"datum": -24.34}}},
 {"data": {"name": "barsE"}, "mark": {"type": "rect", "color": "#d6d6d6"},
  "encoding": {
   "x": {"field": "a1", "type": "quantitative", "axis": {"orient": "bottom", "values": [2,3,4,5,6,7,8,9,10], "tickSize": -8, "labelPadding": 14, "domainColor": "black", "tickColor": "black", "labelColor": "black", "title": "Age/kyr", "titleColor": "black", "titleFontSize": 20, "titlePadding": 2}},
   "x2": {"field": "a2"},
   "y": {"datum": -9.642, "type": "quantitative", "scale": {"domain": [-18.606, -7.991], "reverse": true, "nice": false, "zero": false}, "axis": null},
   "y2": {"datum": -8.11}}},
 {"data": {"name": "curves"}, "layer": [
  {"transform": [{"filter": "datum.c == 'i' && datum.f == 1"}], "mark": {"type": "area", "color": "#2e3192"},
   "encoding": {"y": {"field": "p", "type": "quantitative", "stack": null, "scale": {"domain": [-1082, 75], "nice": false, "zero": false}, "axis": null}, "y2": {"datum": 0}}},
  {"transform": [{"filter": "datum.c == 'i'"}], "mark": {"type": "line", "color": "#2e3192", "strokeWidth": 1.5},
   "encoding": {"y": {"field": "p", "type": "quantitative", "axis": null}}},
  {"transform": [{"filter": "datum.c == 'i'"}], "mark": {"type": "rule", "color": "#2e3192", "strokeWidth": 1.5},
   "encoding": {"x": {"aggregate": "min", "field": "age", "type": "quantitative", "axis": null}, "x2": {"aggregate": "max", "field": "age"}, "y": {"datum": 0, "type": "quantitative", "axis": null}}},
  {"data": {"name": "clabels"}, "transform": [{"filter": "datum.c == 'i' && datum.it == 0"}], "mark": {"type": "text", "color": "#2e3192", "align": "left", "baseline": "middle", "fontSize": 21},
   "encoding": {"y": {"field": "p", "type": "quantitative", "axis": null}, "text": {"field": "t"}}},
  {"data": {"name": "clabels"}, "transform": [{"filter": "datum.c == 'i' && datum.it == 1"}], "mark": {"type": "text", "color": "#2e3192", "align": "left", "baseline": "middle", "fontSize": 21, "fontStyle": "italic"},
   "encoding": {"y": {"field": "p", "type": "quantitative", "axis": null}, "text": {"field": "t"}}}
 ]},
 {"data": {"name": "curves"}, "layer": [
  {"transform": [{"filter": "datum.c == 'ii' && datum.f == 1"}], "mark": {"type": "area", "color": "#e4007f"},
   "encoding": {"y": {"field": "p", "type": "quantitative", "stack": null, "scale": {"domain": [-1014, 143], "nice": false, "zero": false}, "axis": null}, "y2": {"datum": 0}}},
  {"transform": [{"filter": "datum.c == 'ii'"}], "mark": {"type": "line", "color": "#e4007f", "strokeWidth": 1.5},
   "encoding": {"y": {"field": "p", "type": "quantitative", "axis": null}}},
  {"transform": [{"filter": "datum.c == 'ii'"}], "mark": {"type": "rule", "color": "#e4007f", "strokeWidth": 1.5},
   "encoding": {"x": {"aggregate": "min", "field": "age", "type": "quantitative", "axis": null}, "x2": {"aggregate": "max", "field": "age"}, "y": {"datum": 0, "type": "quantitative", "axis": null}}},
  {"data": {"name": "clabels"}, "transform": [{"filter": "datum.c == 'ii' && datum.it == 0"}], "mark": {"type": "text", "color": "#e4007f", "align": "left", "baseline": "middle", "fontSize": 21},
   "encoding": {"y": {"field": "p", "type": "quantitative", "axis": null}, "text": {"field": "t"}}},
  {"data": {"name": "clabels"}, "transform": [{"filter": "datum.c == 'ii' && datum.it == 1"}], "mark": {"type": "text", "color": "#e4007f", "align": "left", "baseline": "middle", "fontSize": 21, "fontStyle": "italic"},
   "encoding": {"y": {"field": "p", "type": "quantitative", "axis": null}, "text": {"field": "t"}}}
 ]},
 {"data": {"name": "curves"}, "layer": [
  {"transform": [{"filter": "datum.c == 'iii' && datum.f == 1"}], "mark": {"type": "area", "color": "#22a03a"},
   "encoding": {"y": {"field": "p", "type": "quantitative", "stack": null, "scale": {"domain": [-943, 214], "nice": false, "zero": false}, "axis": null}, "y2": {"datum": 0}}},
  {"transform": [{"filter": "datum.c == 'iii'"}], "mark": {"type": "line", "color": "#22a03a", "strokeWidth": 1.5},
   "encoding": {"y": {"field": "p", "type": "quantitative", "axis": null}}},
  {"transform": [{"filter": "datum.c == 'iii'"}], "mark": {"type": "rule", "color": "#22a03a", "strokeWidth": 1.5},
   "encoding": {"x": {"aggregate": "min", "field": "age", "type": "quantitative", "axis": null}, "x2": {"aggregate": "max", "field": "age"}, "y": {"datum": 0, "type": "quantitative", "axis": null}}},
  {"data": {"name": "clabels"}, "transform": [{"filter": "datum.c == 'iii' && datum.it == 0"}], "mark": {"type": "text", "color": "#22a03a", "align": "left", "baseline": "middle", "fontSize": 21},
   "encoding": {"y": {"field": "p", "type": "quantitative", "axis": null}, "text": {"field": "t"}}},
  {"data": {"name": "clabels"}, "transform": [{"filter": "datum.c == 'iii' && datum.it == 1"}], "mark": {"type": "text", "color": "#22a03a", "align": "left", "baseline": "middle", "fontSize": 21, "fontStyle": "italic"},
   "encoding": {"y": {"field": "p", "type": "quantitative", "axis": null}, "text": {"field": "t"}}}
 ]},
 {"data": {"name": "curves"}, "layer": [
  {"transform": [{"filter": "datum.c == 'iv' && datum.f == 1"}], "mark": {"type": "area", "color": "#00a0d9"},
   "encoding": {"y": {"field": "p", "type": "quantitative", "stack": null, "scale": {"domain": [-873, 284], "nice": false, "zero": false}, "axis": null}, "y2": {"datum": 0}}},
  {"transform": [{"filter": "datum.c == 'iv'"}], "mark": {"type": "line", "color": "#00a0d9", "strokeWidth": 1.5},
   "encoding": {"y": {"field": "p", "type": "quantitative", "axis": null}}},
  {"transform": [{"filter": "datum.c == 'iv'"}], "mark": {"type": "rule", "color": "#00a0d9", "strokeWidth": 1.5},
   "encoding": {"x": {"aggregate": "min", "field": "age", "type": "quantitative", "axis": null}, "x2": {"aggregate": "max", "field": "age"}, "y": {"datum": 0, "type": "quantitative", "axis": null}}},
  {"data": {"name": "clabels"}, "transform": [{"filter": "datum.c == 'iv' && datum.it == 0"}], "mark": {"type": "text", "color": "#00a0d9", "align": "left", "baseline": "middle", "fontSize": 21},
   "encoding": {"y": {"field": "p", "type": "quantitative", "axis": null}, "text": {"field": "t"}}},
  {"data": {"name": "clabels"}, "transform": [{"filter": "datum.c == 'iv' && datum.it == 1"}], "mark": {"type": "text", "color": "#00a0d9", "align": "left", "baseline": "middle", "fontSize": 21, "fontStyle": "italic"},
   "encoding": {"y": {"field": "p", "type": "quantitative", "axis": null}, "text": {"field": "t"}}}
 ]},
 {"data": {"name": "curves"}, "layer": [
  {"transform": [{"filter": "datum.c == 'v' && datum.f == 1"}], "mark": {"type": "area", "color": "#e0301e"},
   "encoding": {"y": {"field": "p", "type": "quantitative", "stack": null, "scale": {"domain": [-803, 354], "nice": false, "zero": false}, "axis": null}, "y2": {"datum": 0}}},
  {"transform": [{"filter": "datum.c == 'v'"}], "mark": {"type": "line", "color": "#e0301e", "strokeWidth": 1.5},
   "encoding": {"y": {"field": "p", "type": "quantitative", "axis": null}}},
  {"transform": [{"filter": "datum.c == 'v'"}], "mark": {"type": "rule", "color": "#e0301e", "strokeWidth": 1.5},
   "encoding": {"x": {"aggregate": "min", "field": "age", "type": "quantitative", "axis": null}, "x2": {"aggregate": "max", "field": "age"}, "y": {"datum": 0, "type": "quantitative", "axis": null}}},
  {"data": {"name": "clabels"}, "transform": [{"filter": "datum.c == 'v' && datum.it == 0"}], "mark": {"type": "text", "color": "#e0301e", "align": "left", "baseline": "middle", "fontSize": 21},
   "encoding": {"y": {"field": "p", "type": "quantitative", "axis": null}, "text": {"field": "t"}}},
  {"data": {"name": "clabels"}, "transform": [{"filter": "datum.c == 'v' && datum.it == 1"}], "mark": {"type": "text", "color": "#e0301e", "align": "left", "baseline": "middle", "fontSize": 21, "fontStyle": "italic"},
   "encoding": {"y": {"field": "p", "type": "quantitative", "axis": null}, "text": {"field": "t"}}}
 ]},
 {"data": {"name": "curves"}, "transform": [{"filter": "datum.c == 'vi' && datum.f == 1"}], "mark": {"type": "area", "color": "#9c1fa2"},
  "encoding": {"y": {"field": "p", "type": "quantitative", "stack": null, "scale": {"domain": [-733, 424], "nice": false, "zero": false},
    "axis": {"orient": "left", "domain": false, "ticks": false, "labels": false, "grid": false, "title": ["(a) Probability cummulative curve", "of radiocarbon on prehistoric cultures", "in the West Liao Rive Basin"], "titleColor": "#4f4c9e", "titleFontSize": 22, "titleAngle": 270, "titleAlign": "center", "titleBaseline": "middle", "titleX": -79, "titleY": 182, "titleLineHeight": 25}}, "y2": {"datum": 0}}},
 {"data": {"name": "curves"}, "layer": [
  {"transform": [{"filter": "datum.c == 'vi'"}], "mark": {"type": "line", "color": "#9c1fa2", "strokeWidth": 1.5},
   "encoding": {"y": {"field": "p", "type": "quantitative", "scale": {"domain": [-733, 424], "nice": false, "zero": false}, "axis": null}}},
  {"transform": [{"filter": "datum.c == 'vi'"}], "mark": {"type": "rule", "color": "#9c1fa2", "strokeWidth": 1.5},
   "encoding": {"x": {"aggregate": "min", "field": "age", "type": "quantitative", "axis": null}, "x2": {"aggregate": "max", "field": "age"}, "y": {"datum": 0, "type": "quantitative", "axis": null}}},
  {"data": {"name": "clabels"}, "transform": [{"filter": "datum.c == 'vi' && datum.it == 0"}], "mark": {"type": "text", "color": "#9c1fa2", "align": "left", "baseline": "middle", "fontSize": 21},
   "encoding": {"y": {"field": "p", "type": "quantitative", "axis": null}, "text": {"field": "t"}}},
  {"data": {"name": "clabels"}, "transform": [{"filter": "datum.c == 'vi' && datum.it == 1"}], "mark": {"type": "text", "color": "#9c1fa2", "align": "left", "baseline": "middle", "fontSize": 21, "fontStyle": "italic"},
   "encoding": {"y": {"field": "p", "type": "quantitative", "axis": null}, "text": {"field": "t"}}}
 ]},
 {"data": {"name": "dates"}, "mark": {"type": "point", "filled": true, "opacity": 1},
  "encoding": {
   "y": {"field": "row", "type": "quantitative", "scale": {"domain": [-23.24, 16.655], "nice": false, "zero": false},
     "axis": {"orient": "right", "domain": false, "ticks": false, "labels": false, "grid": false, "title": ["(b) Chronological dating on", "Horqin Dunefield evolution"], "titleColor": "black", "titleFontSize": 22, "titleAngle": 270, "titleAlign": "center", "titleBaseline": "middle", "titleX": 55, "titleY": 427, "titleLineHeight": 25}},
   "color": {"field": "type", "type": "nominal", "scale": {"domain": ["Dates for soil layer", "Dates for sand layer"], "range": ["#111111", "#e3301c"]},
     "legend": {"title": null, "orient": "none", "legendX": 704, "legendY": 380, "padding": 0, "labelFontSize": 21, "labelColor": "black", "labelLimit": 0, "symbolSize": 120, "rowPadding": 3, "labelOffset": 2, "symbolStrokeWidth": 0}},
   "shape": {"field": "type", "type": "nominal", "scale": {"domain": ["Dates for soil layer", "Dates for sand layer"], "range": ["square", "triangle-up"]}},
   "size": {"field": "type", "type": "nominal", "scale": {"domain": ["Dates for soil layer", "Dates for sand layer"], "range": [100, 169]}, "legend": null}}},
 {"data": {"name": "sil"}, "mark": {"type": "line", "color": "#4a8a2e", "strokeWidth": 1.6},
  "encoding": {"y": {"field": "v", "type": "quantitative", "scale": {"domain": [-52.9, 114.78], "nice": false, "zero": false},
    "axis": {"orient": "left", "offset": 11, "values": [10, 20, 30, 40], "domain": false, "tickSize": -9, "labelPadding": 16, "tickColor": "#4a8a2e", "labelColor": "#4a8a2e", "title": ["(c) Sihailongwan Lake", "F-bSiO₂/(g·m⁻²·yr⁻¹)"], "titleColor": "#4a8a2e", "titleFontSize": 22, "titleAngle": 270, "titleAlign": "center", "titleBaseline": "middle", "titleX": -77, "titleY": 619, "titleLineHeight": 29}}}},
 {"data": {"name": "spines"}, "transform": [{"filter": "datum.panel == 'c'"}], "mark": {"type": "rule", "color": "#4a8a2e", "strokeWidth": 1.5},
  "encoding": {"y": {"field": "lo", "type": "quantitative", "scale": {"domain": [-52.9, 114.78], "nice": false, "zero": false}, "axis": null}, "y2": {"field": "hi"}}},
 {"data": {"name": "hani"}, "mark": {"type": "line", "color": "#2f3fa6", "strokeWidth": 1.5},
  "encoding": {"y": {"field": "v", "type": "quantitative", "scale": {"domain": [-47.02, -18.805], "reverse": true, "nice": false, "zero": false},
    "axis": {"orient": "right", "offset": 10, "values": [-28, -27, -26, -25, -24], "domain": false, "tickSize": -9, "labelPadding": 17, "tickColor": "#2f3fa6", "labelColor": "#2f3fa6", "title": ["(d) Hani peat bog cellulose", "δ¹³C‰"], "titleColor": "#2f3fa6", "titleFontSize": 22, "titleAngle": 270, "titleAlign": "center", "titleBaseline": "middle", "titleX": 54, "titleY": 862, "titleLineHeight": 34}}}},
 {"data": {"name": "spines"}, "transform": [{"filter": "datum.panel == 'd'"}], "mark": {"type": "rule", "color": "#2f3fa6", "strokeWidth": 1.5},
  "encoding": {"y": {"field": "lo", "type": "quantitative", "scale": {"domain": [-47.02, -18.805], "reverse": true, "nice": false, "zero": false}, "axis": null}, "y2": {"field": "hi"}}},
 {"data": {"name": "nuan"}, "mark": {"type": "line", "color": "#e8281e", "strokeWidth": 1.5},
  "encoding": {"y": {"field": "v", "type": "quantitative", "scale": {"domain": [-18.606, -7.991], "reverse": true, "nice": false, "zero": false},
    "axis": {"orient": "left", "offset": 2, "values": [-10, -9, -8], "domain": false, "tickSize": -8, "labelPadding": 15, "tickColor": "#e8281e", "labelColor": "#e8281e", "title": ["(e) Nuanhuo Cave", "δ¹⁸O‰, VPDB"], "titleColor": "#e8281e", "titleFontSize": 22, "titleAngle": 270, "titleAlign": "center", "titleBaseline": "middle", "titleX": -79, "titleY": 1047, "titleLineHeight": 30}}}},
 {"data": {"name": "spines"}, "transform": [{"filter": "datum.panel == 'e'"}], "mark": {"type": "rule", "color": "#e8281e", "strokeWidth": 1.5},
  "encoding": {"y": {"field": "lo", "type": "quantitative", "scale": {"domain": [-18.606, -7.991], "reverse": true, "nice": false, "zero": false}, "axis": null}, "y2": {"field": "hi"}}},
 {"data": {"values": [{"age": 9.434, "lo": -13.48, "hi": 28.84, "head": 31.59, "lab": 26.8, "txt": "Humid"}]}, "layer": [
  {"mark": {"type": "rule", "color": "#6b6b6b", "strokeWidth": 11, "strokeCap": "butt"},
   "encoding": {"y": {"field": "lo", "type": "quantitative", "scale": {"domain": [-52.9, 114.78], "nice": false, "zero": false}, "axis": null}, "y2": {"field": "hi"}}},
  {"mark": {"type": "point", "filled": true, "opacity": 1, "color": "#6b6b6b", "shape": "M-0.65,1L0,-1L0.65,1Z", "size": 1444},
   "encoding": {"y": {"field": "head", "type": "quantitative", "axis": null}}},
  {"mark": {"type": "text", "color": "black", "fontSize": 22, "align": "center", "baseline": "middle", "dx": -39},
   "encoding": {"y": {"field": "lab", "type": "quantitative", "axis": null}, "text": {"field": "txt"}}}
 ]},
 {"data": {"values": [{"age": 9.434, "lo": -8.11, "hi": -10.01, "head": -10.193, "lab": -9.716, "txt": "Warm"}]}, "layer": [
  {"mark": {"type": "rule", "color": "#6b6b6b", "strokeWidth": 11, "strokeCap": "butt"},
   "encoding": {"y": {"field": "lo", "type": "quantitative", "scale": {"domain": [-18.606, -7.991], "reverse": true, "nice": false, "zero": false}, "axis": null}, "y2": {"field": "hi"}}},
  {"mark": {"type": "point", "filled": true, "opacity": 1, "color": "#6b6b6b", "shape": "M-0.65,1L0,-1L0.65,1Z", "size": 1444},
   "encoding": {"y": {"field": "head", "type": "quantitative", "axis": null}}},
  {"mark": {"type": "text", "color": "black", "fontSize": 22, "align": "center", "baseline": "middle", "dx": -39},
   "encoding": {"y": {"field": "lab", "type": "quantitative", "axis": null}, "text": {"field": "txt"}}}
 ]}
],
"resolve": {"scale": {"y": "independent"}, "axis": {"x": "independent", "y": "independent"}}
}
